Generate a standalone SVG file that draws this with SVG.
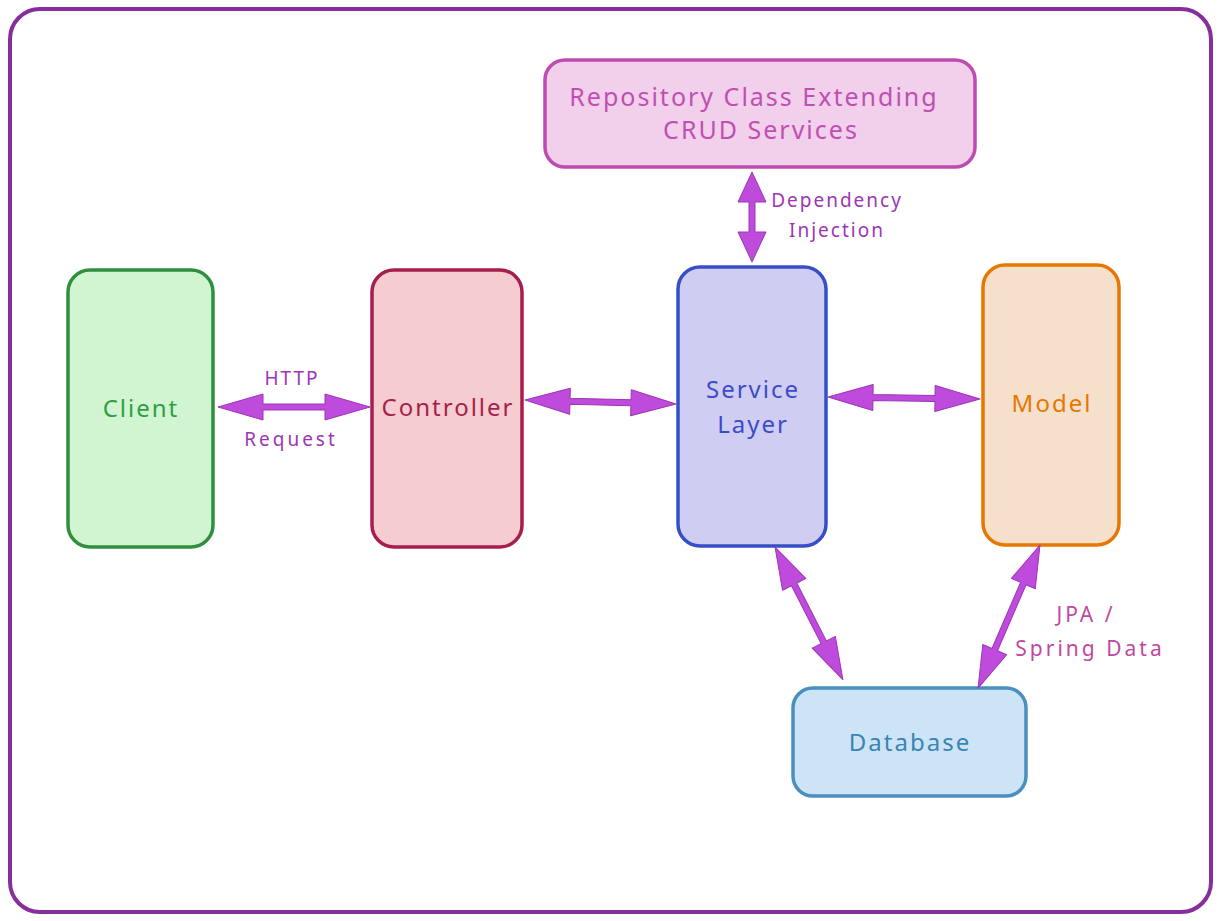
<svg xmlns="http://www.w3.org/2000/svg" width="1220" height="921" viewBox="0 0 1220 921">
<style>
text{font-family:"Noto Sans","Liberation Sans",sans-serif;text-anchor:middle;dominant-baseline:central}
.box{stroke-width:3.5}
.lbl{font-size:24px;letter-spacing:2px}
.el{font-size:19px;fill:#9c36b5;letter-spacing:2px}
.jpa{font-size:21px;fill:#c2489f;letter-spacing:3px}
.arr{fill:#be4bdb;stroke:#9c36b5;stroke-width:1;stroke-linejoin:round}
</style>
<rect x="0" y="0" width="1220" height="921" fill="#ffffff"/>
<rect x="10" y="9" width="1201" height="903" rx="30" fill="#ffffff" stroke="#862e9c" stroke-width="4"/>
<g id="repository">
<rect class="box" x="545" y="60" width="430" height="107" rx="20" fill="#f2cfeb" stroke="#be4bb0"/>
<text class="lbl" x="754" y="96" fill="#c04fb3" style="font-size:25px">Repository Class Extending</text>
<text class="lbl" x="761" y="129" fill="#c04fb3" style="font-size:25px">CRUD Services</text>
</g>
<g id="client">
<rect class="box" x="68" y="270" width="145" height="277" rx="22" fill="#d0f5d0" stroke="#2f8f3f"/>
<text class="lbl" x="141" y="407" fill="#2f9e44">Client</text>
</g>
<g id="controller">
<rect class="box" x="372" y="270" width="150" height="277" rx="22" fill="#f5cdd0" stroke="#a61e4d"/>
<text class="lbl" x="448" y="406" fill="#a61e4d">Controller</text>
</g>
<g id="service">
<rect class="box" x="678" y="267" width="148" height="279" rx="22" fill="#d0cdf3" stroke="#364fc7"/>
<text class="lbl" x="753" y="388" fill="#3b4cc9">Service</text>
<text class="lbl" x="753" y="423" fill="#3b4cc9">Layer</text>
</g>
<g id="model">
<rect class="box" x="983" y="265" width="136" height="280" rx="22" fill="#f5e0cc" stroke="#e67700"/>
<text class="lbl" x="1052" y="402" fill="#e67700">Model</text>
</g>
<g id="database">
<rect class="box" x="793" y="688" width="233" height="108" rx="20" fill="#cce4f5" stroke="#4a8fbf"/>
<text class="lbl" x="910" y="741" fill="#3a85b5">Database</text>
</g>
<g id="connectors">
<polygon class="arr" transform="translate(218,407)" points="0,0 45,-13 45,-3 107,-3 107,-13 152,0 107,13 107,3 45,3 45,13"/>
<polygon class="arr" transform="translate(525,400) rotate(1.5)" points="0,0 45,-13 45,-3 106,-3 106,-13 151,0 106,13 106,3 45,3 45,13"/>
<polygon class="arr" transform="translate(828,397) rotate(0.75)" points="0,0 45,-13 45,-3 107,-3 107,-13 152,0 107,13 107,3 45,3 45,13"/>
<polygon class="arr" transform="translate(752,172) rotate(90)" points="0,0 30,-14 30,-3 60,-3 60,-14 90,0 60,14 60,3 30,3 30,14"/>
<polygon class="arr" transform="translate(775,547) rotate(62.9)" points="0,0 42,-13 42,-3 107,-3 107,-13 149,0 107,13 107,3 42,3 42,13"/>
<polygon class="arr" transform="translate(1040,545) rotate(113.4)" points="0,0 42,-13 42,-3 114,-3 114,-13 156,0 114,13 114,3 42,3 42,13"/>
<text class="el" x="292" y="378">HTTP</text>
<text class="el" x="291" y="439" style="letter-spacing:3px">Request</text>
<text class="el" x="837" y="200">Dependency</text>
<text class="el" x="837" y="230">Injection</text>
<text class="jpa" x="1086" y="614">JPA /</text>
<text class="jpa" x="1090" y="648">Spring Data</text>
</g>
</svg>
